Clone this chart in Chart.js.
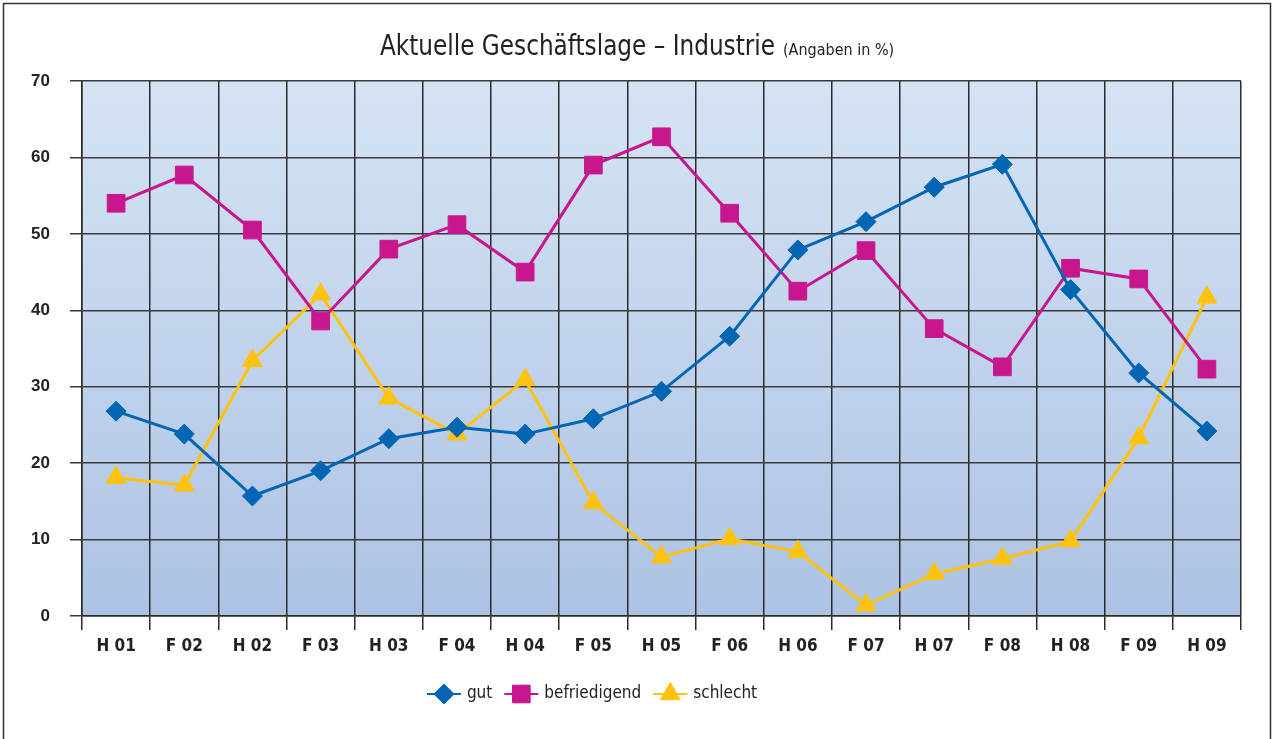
<!DOCTYPE html>
<html>
<head>
<meta charset="utf-8">
<script src="https://cdn.jsdelivr.net/npm/chart.js"></script>
<style>
html,body{margin:0;padding:0;background:#fff;}
#wrap{width:1274px;height:739px;position:relative;}
</style>
</head>
<body>
<div id="wrap"><canvas id="c" width="1274" height="739"></canvas></div>
<script>
const categories = ["H 01","F 02","H 02","F 03","H 03","F 04","H 04","F 05","H 05","F 06","H 06","F 07","H 07","F 08","H 08","F 09","H 09"];
const gut = [26.8,23.8,15.7,19.0,23.2,24.7,23.8,25.8,29.4,36.6,47.9,51.6,56.1,59.1,42.7,31.8,24.2];
const befriedigend = [54.0,57.7,50.5,38.6,48.0,51.2,45.0,59.0,62.7,52.7,42.5,47.8,37.6,32.6,45.5,44.1,32.3];
const schlecht = [18.1,17.1,33.4,42.1,28.5,23.8,30.9,14.8,7.7,10.1,8.4,1.4,5.5,7.5,9.8,23.3,41.7];
const yTicks = [0,10,20,30,40,50,60,70];
const titleMain = "Aktuelle Geschäftslage – Industrie";
const titleSub = "(Angaben in %)";

const COLORS = {gut:"#0066b3", bef:"#c8168c", sch:"#ffc20e"};

const bgPlugin = {
  id:"bg",
  beforeDraw(chart){
    const {ctx, chartArea:a} = chart;
    ctx.save();
    const g = ctx.createLinearGradient(0,a.top,0,a.bottom);
    g.addColorStop(0,"#d5e3f4");
    g.addColorStop(1,"#adc3e4");
    ctx.fillStyle = g;
    ctx.fillRect(a.left,a.top,a.right-a.left,a.bottom-a.top);
    ctx.restore();
  },
  afterDraw(chart){
    const ctx = chart.ctx;
    ctx.save();
    // frame
    ctx.strokeStyle="#333"; ctx.lineWidth=1.5;
    ctx.beginPath();
    ctx.moveTo(3.5,745); ctx.lineTo(3.5,3.5); ctx.lineTo(1270.5,3.5); ctx.lineTo(1270.5,745);
    ctx.stroke();
    // title
    const fMain = "29px 'Liberation Sans Narrow','DejaVu Sans Condensed',sans-serif";
    const fSub = "16px 'Liberation Sans Narrow','DejaVu Sans Condensed',sans-serif";
    ctx.font=fMain; const w1 = ctx.measureText(titleMain).width;
    const sx = 395/w1;
    const y = 55;
    ctx.fillStyle="#222"; ctx.textBaseline="alphabetic"; ctx.textAlign="left";
    ctx.save();
    ctx.translate(380,y); ctx.scale(sx,1);
    ctx.font=fMain; ctx.fillText(titleMain,0,0);
    ctx.restore();
    ctx.font=fSub; ctx.fillText(titleSub,783,y);
    // legend
    const items = [
      {label:"gut", color:COLORS.gut, style:"rectRot", r:10},
      {label:"befriedigend", color:COLORS.bef, style:"rect", r:12.5},
      {label:"schlecht", color:COLORS.sch, style:"triangle", r:11.5}
    ];
    const lf = "17px 'Liberation Sans Narrow','DejaVu Sans Condensed',sans-serif";
    ctx.font = lf;
    const symW = 34, symGap = 6, itemGap = 12;
    let total = 0;
    items.forEach(it=>{ it.tw = ctx.measureText(it.label).width; total += symW+symGap+it.tw; });
    total += itemGap*(items.length-1);
    let lx = 592 - total/2; const ly = 694;
    items.forEach(it=>{
      ctx.strokeStyle=it.color; ctx.lineWidth=2;
      ctx.beginPath(); ctx.moveTo(lx,ly); ctx.lineTo(lx+symW,ly); ctx.stroke();
      ctx.save();
      ctx.fillStyle=it.color; ctx.strokeStyle=it.color; ctx.lineWidth=1;
      Chart.helpers.drawPoint(ctx,{pointStyle:it.style, radius:it.r, borderWidth:1}, lx+symW/2, ly);
      ctx.restore();
      ctx.fillStyle="#222"; ctx.font=lf; ctx.textBaseline="middle";
      ctx.fillText(it.label, lx+symW+symGap, ly);
      lx += symW+symGap+it.tw+itemGap;
    });
    ctx.restore();
  }
};

function ds(label,data,color,style,r){
  return {label,data,borderColor:color,backgroundColor:color,borderWidth:3,
    pointStyle:style,pointRadius:r,pointHoverRadius:r,pointBorderWidth:1,
    pointBackgroundColor:color,pointBorderColor:color,tension:0};
}

new Chart(document.getElementById("c"),{
  type:"line",
  data:{labels:categories,datasets:[
    ds("gut",gut,COLORS.gut,"rectRot",10),
    ds("befriedigend",befriedigend,COLORS.bef,"rect",12.5),
    ds("schlecht",schlecht,COLORS.sch,"triangle",11.5)
  ]},
  options:{
    responsive:false,animation:false,
    layout:{padding:{left:0,right:33,top:81,bottom:73}},
    plugins:{legend:{display:false},title:{display:false},tooltip:{enabled:false}},
    scales:{
      x:{
        offset:true,
        grid:{color:"#2a2a2a",lineWidth:1.5,tickLength:14,offset:true},
        border:{color:"#2a2a2a",width:1.5},
        ticks:{color:"#222",padding:6,maxRotation:0,autoSkip:false,
          font:{family:"'Liberation Sans Narrow','DejaVu Sans Condensed',sans-serif",size:17,weight:"bold"}},
        afterFit(s){s.height=50;}
      },
      y:{
        min:0,max:70,
        afterBuildTicks(s){s.ticks = yTicks.map(v=>({value:v}));},
        grid:{color:"#3a3a3a",lineWidth:1.5,tickLength:12},
        border:{color:"#2a2a2a",width:1.5},
        ticks:{color:"#222",padding:20,
          font:{family:"'Liberation Sans','Arial',sans-serif",size:17,weight:"bold"}},
        afterFit(s){s.width=82;}
      }
    }
  },
  plugins:[bgPlugin]
});
</script>
</body>
</html>
